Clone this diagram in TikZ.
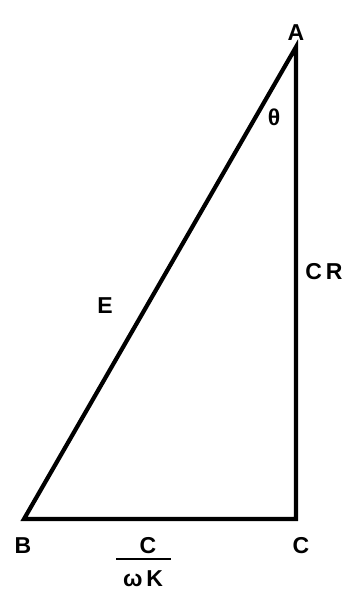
\documentclass[tikz,border=0pt]{standalone}
\usepackage{fontspec}
\setmainfont{Liberation Sans}
\begin{document}
\begin{tikzpicture}[x=1pt, y=1pt,
    side/.style={line width=4.2pt, line join=miter},
    bar/.style={line width=2.5pt},
    lbl/.style={font=\fontsize{23}{26}\selectfont\bfseries, inner sep=0pt}]
    \useasboundingbox (0,0) rectangle (351,591);

    \coordinate (A) at (296,544);
    \coordinate (B) at (24,72);
    \coordinate (C) at (296,72);

    \draw [side] (A) -- (B) -- (C) -- cycle;

    \node [lbl] (la) at (296,558) {A};
    \node [lbl] (lb) at (23,45) {B};
    \node [lbl] (lc) at (301,45) {C};
    \node [lbl] (theta) at (274,474) {θ};
    \node [lbl] (e) at (105,285) {E};
    \node [lbl] (cr) at (324,319) {C\,R};
    % fraction C over omega K
    \node [lbl] (num) at (148,45) {C};
    \node [lbl, anchor=base] (den) at (143,5) {ω\,K};
    \draw [bar] (116,32) -- (171,32);
\end{tikzpicture}
\end{document}
